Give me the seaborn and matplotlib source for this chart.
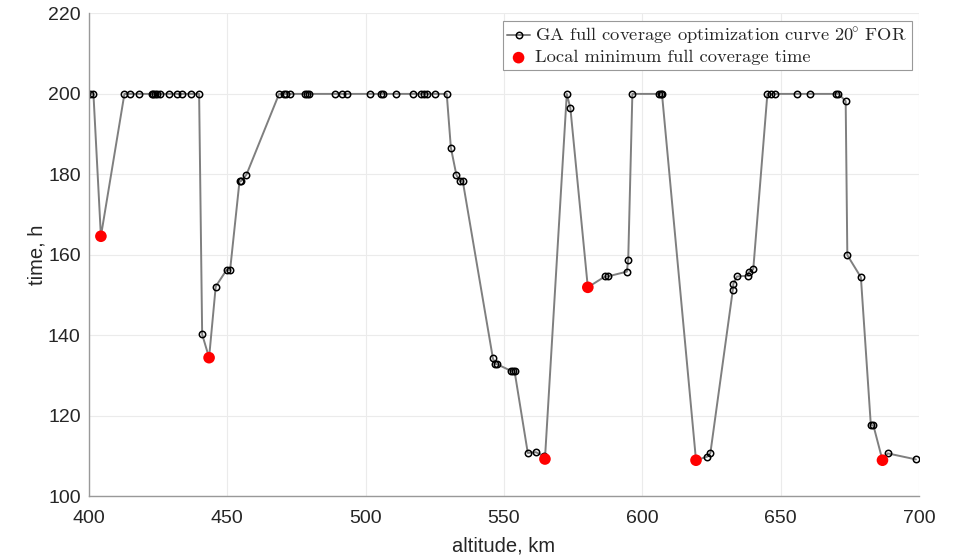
import matplotlib
matplotlib.use("Agg")
import matplotlib.pyplot as plt
import seaborn as sns
import pandas as pd

# GA search results: orbit altitude (km) vs. full coverage time (h)
altitude = [
    400.2, 401.6, 404.3, 412.8, 414.9, 417.9, 422.7, 423.2, 423.9, 424.6,
    425.7, 429.0, 431.9, 433.6, 436.9, 439.8, 440.9, 443.4, 445.8, 449.7,
    451.0, 454.4, 454.9, 456.9, 468.7, 470.3, 471.3, 472.5, 477.9, 478.7,
    479.5, 489.0, 491.4, 493.2, 501.4, 505.6, 506.2, 510.8, 517.0, 520.0,
    521.0, 522.1, 525.2, 529.3, 530.8, 532.8, 534.1, 535.1, 546.0, 546.9,
    547.4, 552.6, 553.2, 553.8, 558.6, 561.5, 564.3, 564.8, 572.7, 574.0,
    580.3, 586.5, 587.5, 594.4, 594.9, 596.4, 605.9, 606.6, 607.1, 619.4,
    623.5, 624.6, 632.7, 632.9, 634.2, 638.3, 638.6, 640.1, 645.2, 646.5,
    648.0, 656.0, 660.7, 669.9, 670.9, 673.5, 674.1, 679.0, 682.6, 683.5,
    686.8, 688.7, 698.9,
]
coverage_time = [
    200.0, 200.0, 164.6, 200.0, 200.0, 200.0, 200.0, 200.0, 200.0, 200.0,
    200.0, 200.0, 200.0, 200.0, 200.0, 200.0, 140.2, 134.4, 152.1, 156.2,
    156.2, 178.3, 178.3, 179.9, 200.0, 200.0, 200.0, 200.0, 200.0, 200.0,
    200.0, 200.0, 200.0, 200.0, 200.0, 200.0, 200.0, 200.0, 200.0, 200.0,
    200.0, 200.0, 200.0, 200.0, 186.6, 179.8, 178.3, 178.3, 134.2, 132.8,
    132.8, 131.1, 131.1, 131.1, 110.7, 110.9, 110.0, 109.2, 200.0, 196.4,
    151.9, 154.6, 154.6, 155.8, 158.8, 200.0, 200.0, 200.0, 200.0, 108.9,
    109.8, 110.7, 151.2, 152.8, 154.6, 154.8, 155.7, 156.4, 200.0, 200.0,
    200.0, 200.0, 200.0, 200.0, 200.0, 198.2, 159.9, 154.4, 117.6, 117.6,
    108.9, 110.6, 109.1,
]

# Local minima of the coverage curve
min_altitude = [404.3, 443.4, 564.8, 580.3, 619.4, 686.8]
min_time = [164.6, 134.4, 109.2, 151.9, 108.9, 108.9]

x_ticks = [400, 450, 500, 550, 600, 650, 700]
y_ticks = [100, 120, 140, 160, 180, 200, 220]

sns.set_style("whitegrid")
plt.rcParams["font.family"] = ["Liberation Sans", "DejaVu Sans"]
plt.rcParams["mathtext.fontset"] = "cm"

curve = pd.DataFrame({"altitude": altitude, "time": coverage_time})
minima = pd.DataFrame({"altitude": min_altitude, "time": min_time})

fig = plt.figure(figsize=(9.54, 5.57), dpi=100)
ax = fig.add_axes([0.0933, 0.1095, 0.8700, 0.8663])

sns.lineplot(data=curve, x="altitude", y="time", sort=False, estimator=None,
             ax=ax, color="#7f7f7f", linewidth=1.4, marker="o",
             markersize=4.6, markerfacecolor="none", markeredgecolor="black",
             markeredgewidth=1.1,
             label="GA full coverage optimization curve $20\\!^{\\circ}$ FOR")
sns.scatterplot(data=minima, x="altitude", y="time", ax=ax, color="#ff0000",
                s=70, edgecolor="none", zorder=5,
                label="Local minimum full coverage time")

ax.set_xlim(400, 700)
ax.set_ylim(100, 220)
ax.set_xticks(x_ticks)
ax.set_yticks(y_ticks)
ax.tick_params(axis="both", labelsize=14, length=0, labelcolor="#262626")
ax.tick_params(axis="x", pad=10)
ax.tick_params(axis="y", pad=6)
ax.set_xlabel("altitude, km", fontsize=14.5, color="#262626", labelpad=7)
ax.set_ylabel("time, h", fontsize=14.5, color="#262626", labelpad=1)
ax.grid(True, color="#ebebeb", linewidth=0.8)
for side in ("top", "right"):
    ax.spines[side].set_visible(False)
for side in ("left", "bottom"):
    ax.spines[side].set_color("#999999")
    ax.spines[side].set_linewidth(1.0)

leg = ax.legend(loc="upper right", prop={"family": "cmr10", "size": 13.3},
                frameon=True, fancybox=False, framealpha=1,
                edgecolor="#999999", borderaxespad=0.4, handlelength=1.2,
                handletextpad=0.3, borderpad=0.25, labelspacing=0.15)
leg.get_frame().set_linewidth(0.8)

fig.savefig("out.png", dpi=100, facecolor="white")
